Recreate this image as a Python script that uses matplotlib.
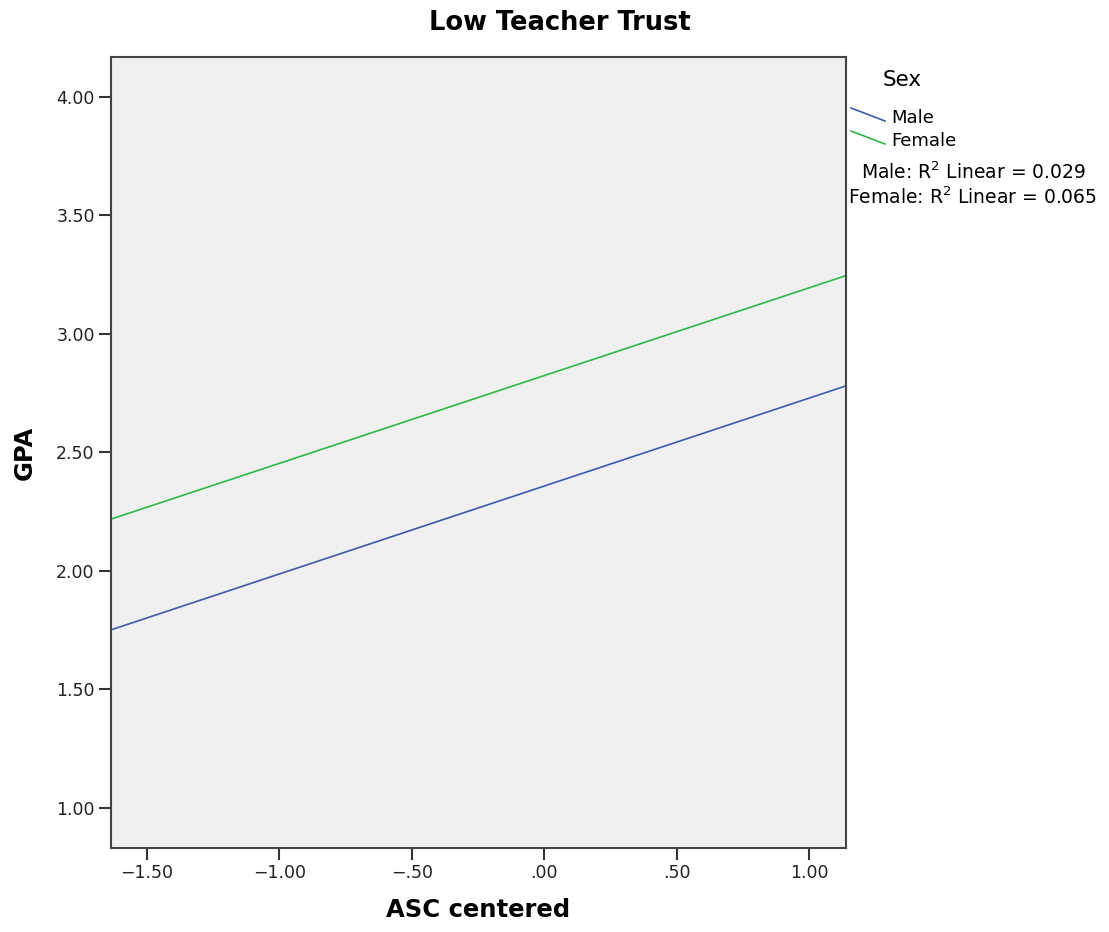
import matplotlib
matplotlib.use("Agg")
from matplotlib import pyplot as plt
from matplotlib.lines import Line2D

# fit lines (endpoints at the axis limits)
asc_ends = [-1.636, 1.138]
male_gpa = [1.751, 2.780]
female_gpa = [2.218, 3.245]

x_ticks = [-1.5, -1.0, -0.5, 0.0, 0.5, 1.0]
x_ticklabels = ["\u22121.50", "\u22121.00", "\u2212.50", ".00", ".50", "1.00"]
y_ticks = [1.0, 1.5, 2.0, 2.5, 3.0, 3.5, 4.0]
y_ticklabels = ["1.00", "1.50", "2.00", "2.50", "3.00", "3.50", "4.00"]

series = ["Male", "Female"]
colors = ["#3E58AC", "#2EB848"]
r2_lines = ["Male: R$^2$ Linear = 0.029", "Female: R$^2$ Linear = 0.065"]

plt.rcParams["font.family"] = ["DejaVu Sans"]

fig = plt.figure(figsize=(11.09, 9.32), dpi=100)
ax = fig.add_axes([0.0998, 0.0905, 0.6628, 0.848])
ax.set_facecolor("#F0F0F0")

ax.plot(asc_ends, male_gpa, color=colors[0], lw=1.2)
ax.plot(asc_ends, female_gpa, color=colors[1], lw=1.2)

ax.set_xlim(asc_ends[0], asc_ends[1])
ax.set_ylim(0.833, 4.166)
ax.set_xticks(x_ticks)
ax.set_xticklabels(x_ticklabels, fontsize=12.5, color="#222222")
ax.set_yticks(y_ticks)
ax.set_yticklabels(y_ticklabels, fontsize=12.5, color="#222222")
ax.tick_params(length=8.5, width=1.5, color="#333333", pad=3)
for sp in ax.spines.values():
    sp.set_linewidth(1.5)
    sp.set_color("#444444")

ax.set_xlabel("ASC centered", fontsize=17.5, fontweight="bold", labelpad=12)
ax.set_ylabel("GPA", fontsize=17.5, fontweight="bold", labelpad=14)
fig.text(0.505, 0.975, "Low Teacher Trust", ha="center", va="center",
         fontsize=18.5, fontweight="bold")

# legend block on the right, drawn in figure pixels
W, H = 1109, 932
fig.text(902 / W, 1 - 80 / H, "Sex", ha="center", va="center", fontsize=15.5)
for i, (name, c) in enumerate(zip(series, colors)):
    y0 = 108 + 23 * i
    fig.add_artist(Line2D([851 / W, 885 / W], [1 - y0 / H, 1 - (y0 + 13) / H],
                          transform=fig.transFigure, color=c, lw=1.2))
    fig.text(891 / W, 1 - (y0 + 10) / H, name, ha="left", va="center", fontsize=13)
for i, t in enumerate(r2_lines):
    fig.text(973 / W, 1 - (172 + 25 * i) / H, t, ha="center", va="center", fontsize=13.5)

plt.savefig("out.png", dpi=100)
plt.close()
